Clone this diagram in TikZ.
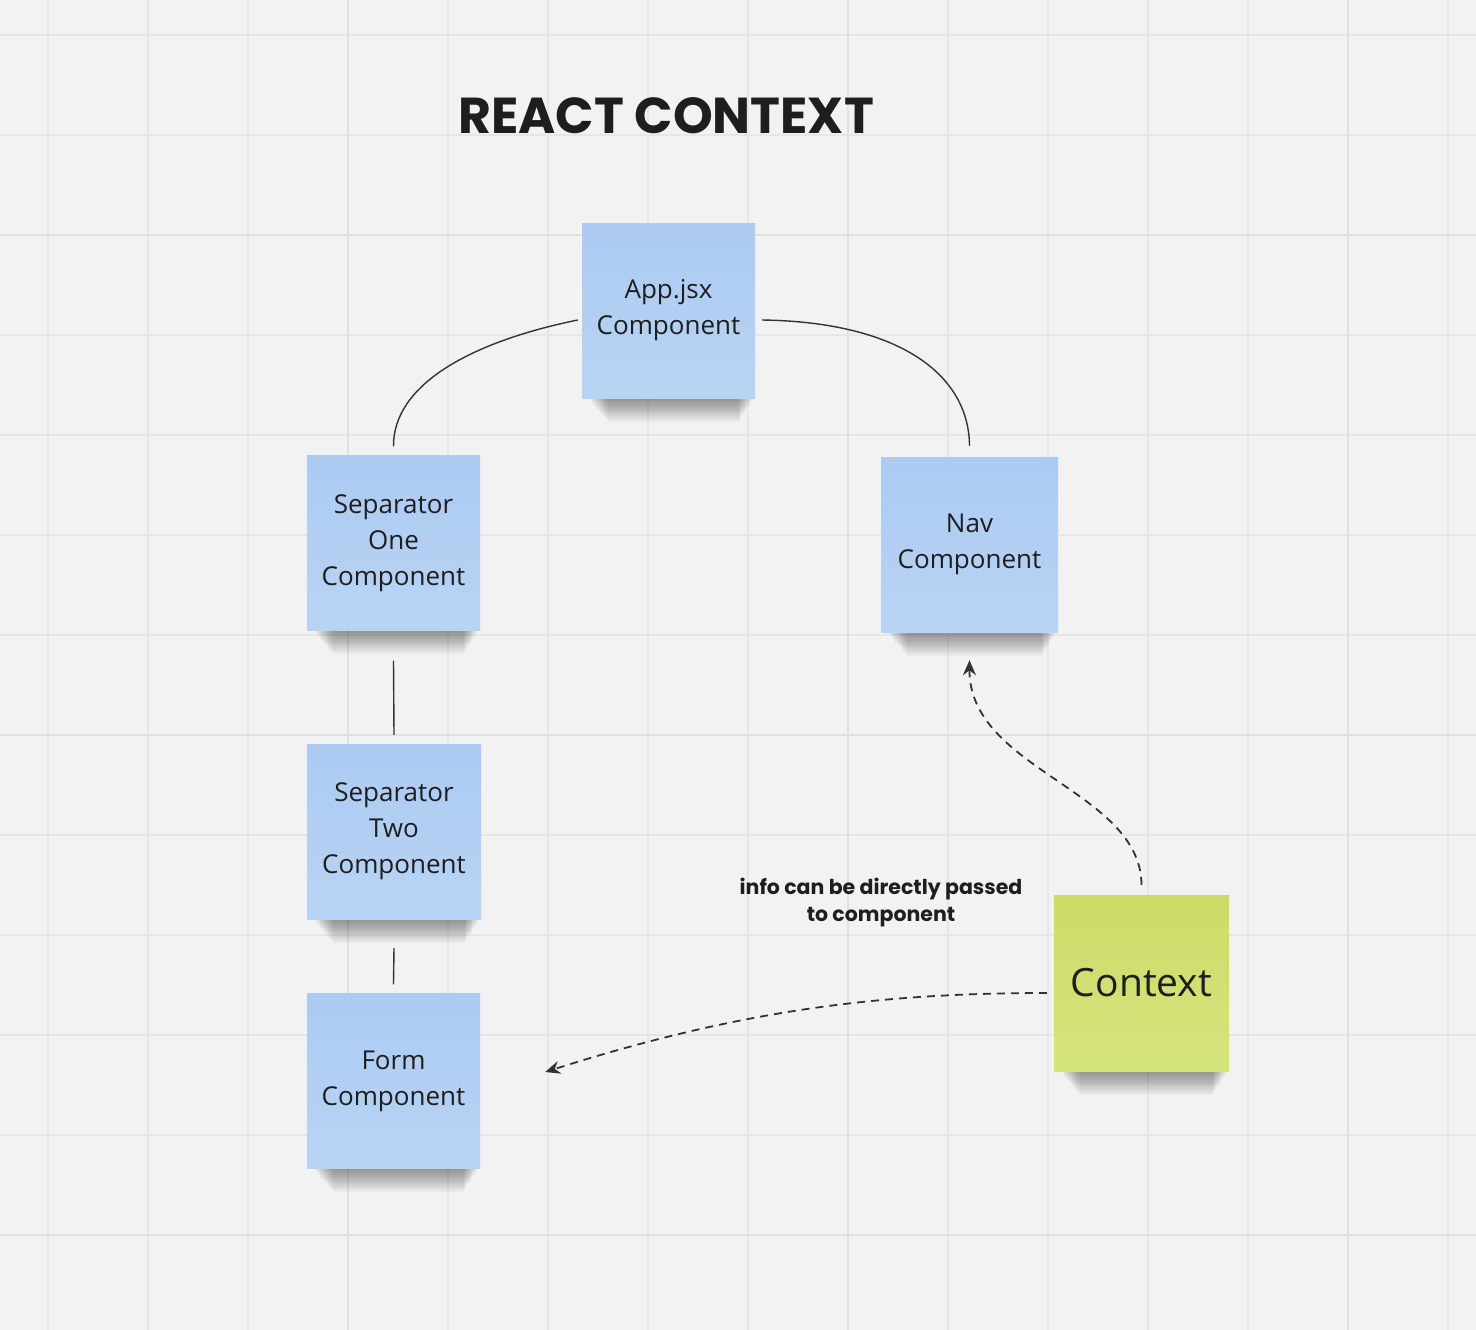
\documentclass[tikz,border=0pt]{standalone}
\usepackage{fontspec}
\newfontfamily\notefont{Open Sans}
\newfontfamily\titlefont{Poppins}
\usetikzlibrary{arrows.meta}
\definecolor{bg}{HTML}{F2F2F2}
\definecolor{gridthin}{HTML}{E6E6E6}
\definecolor{gridthick}{HTML}{E0E0E0}
\definecolor{bluetop}{HTML}{ACCAF2}
\definecolor{bluebot}{HTML}{B8D4F4}
\definecolor{greentop}{HTML}{CCDB66}
\definecolor{greenbot}{HTML}{D6E47E}
\definecolor{ink}{HTML}{1E1E1E}
\definecolor{wire}{HTML}{333333}
\tikzset{
  note/.style={minimum width=173pt, minimum height=175pt, inner sep=0pt,
    align=center, font=\notefont\fontsize{26}{36}\selectfont, text=ink,
    top color=bluetop, bottom color=bluebot},
  greennote/.style={note, top color=greentop, bottom color=greenbot,
    font=\notefont\fontsize{39}{46}\selectfont},
  wireline/.style={draw=wire, line width=1.4pt},
  dashwire/.style={draw=wire, line width=1.8pt, dash pattern=on 8pt off 6pt,
    -{Stealth[length=15pt,width=13pt]}},
}
\newcommand{\noteshadow}[3]{% x1 x2 ybottom
  \foreach \i in {0,...,11}{
    \fill[black, opacity=0.035] (#1+8+\i*1.6,#3-4) rectangle (#2-3-\i*1.2,#3+3+\i*1.9);
  }
}
\begin{document}
\begin{tikzpicture}[x=1pt,y=-1pt]
\useasboundingbox (0,0) rectangle (1476,1330);
\fill[bg] (0,0) rectangle (1476,1330);
% grid
\foreach \k in {0,...,14}{
  \draw[gridthin, line width=1.6pt] (48+\k*100,0) -- (48+\k*100,1330);
}
\foreach \k in {0,...,12}{
  \draw[gridthin, line width=1.6pt] (0,35+\k*100) -- (1476,35+\k*100);
}
\foreach \x in {348,848,1348}{\draw[gridthick, line width=2.4pt] (\x,0) -- (\x,1330);}
\foreach \y in {235,735,1235}{\draw[gridthick, line width=2.4pt] (0,\y) -- (1476,\y);}
% title
\node[font=\titlefont\bfseries\fontsize{50.5}{60}\selectfont, text=ink, inner sep=0pt] (title) at (666,116) {REACT CONTEXT};
% shadows
\noteshadow{582}{755}{398}
\noteshadow{307}{480}{630}
\noteshadow{881}{1058}{632}
\noteshadow{307}{481}{919}
\noteshadow{307}{480}{1168}
\noteshadow{1054}{1229}{1071}
% notes
\node[note] (app) at (668.5,310.5) {App.jsx\\Component};
\node[note] (sepone) at (393.5,543) {Separator\\One\\Component};
\node[note, minimum width=177pt] (nav) at (969.5,544.5) {Nav\\Component};
\node[note, minimum width=174pt] (septwo) at (394,831.5) {Separator\\Two\\Component};
\node[note] (form) at (393.5,1081) {Form\\Component};
\node[greennote, minimum width=175pt, minimum height=176pt] (ctx) at (1141.5,983) {Context};
% label
\node[font=\titlefont\bfseries\fontsize{20.5}{27}\selectfont, text=ink, align=center, inner sep=0pt] (lbl) at (881,903) {info can be directly passed\\to component};
% connectors
\draw[wireline] ([xshift=-4pt,yshift=-9.5pt]app.west) .. controls (470,342) and (393,385) .. ([yshift=9pt]sepone.north);
\draw[wireline] ([xshift=7pt,yshift=-9.5pt]app.east) .. controls (900,322) and (969,375) .. ([yshift=11pt]nav.north);
\draw[wireline] ([yshift=-30pt]sepone.south) -- ([yshift=9pt]septwo.north);
\draw[wireline] ([yshift=-29pt]septwo.south) -- ([yshift=9pt]form.north);
\draw[dashwire] ([yshift=10pt]ctx.north) .. controls (1141,790) and (969,770) .. ([yshift=-28pt]nav.south);
\draw[dashwire] ([xshift=-7pt,yshift=-10pt]ctx.west) .. controls (880,993) and (740,1010) .. ([xshift=65pt,yshift=9pt]form.east);
\end{tikzpicture}
\end{document}
